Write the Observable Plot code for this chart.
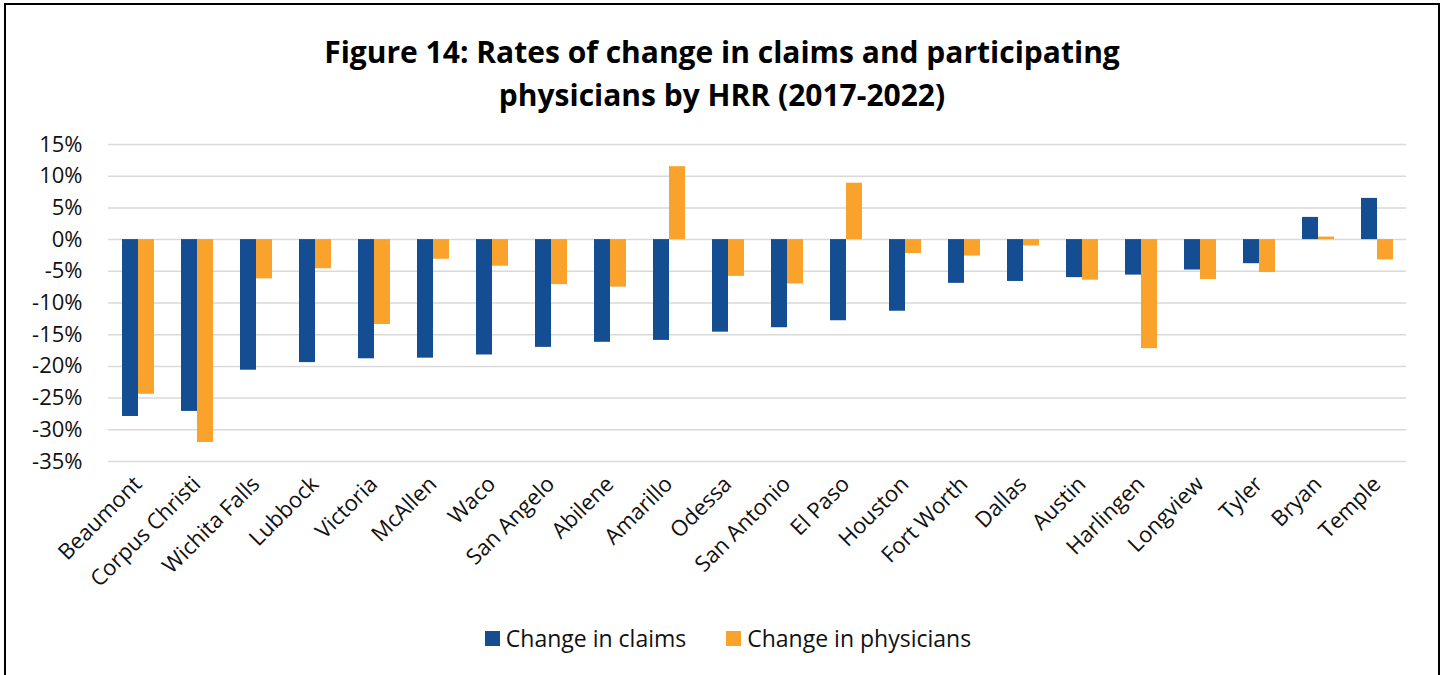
<!DOCTYPE html>
<html>
<head>
<meta charset="utf-8">
<script src="https://cdn.jsdelivr.net/npm/d3@7"></script>
<script src="https://cdn.jsdelivr.net/npm/@observablehq/plot@0.6"></script>
<style>
  html, body { margin: 0; padding: 0; background: #fff; }
  body { width: 1444px; height: 675px; overflow: hidden; position: relative; font-family: "Open Sans", "Noto Sans", sans-serif; color: #111; }
  #frame { position: absolute; left: 4px; top: 3px; width: 1436px; height: 720px; border: 2px solid #000; box-sizing: border-box; }
  #title { position: absolute; left: 0; top: 30px; width: 1444px; text-align: center; font-weight: 700; font-size: 30px; line-height: 43px; color: #000; }
  #chart { position: absolute; left: 0; top: 0; }
  #legend { position: absolute; top: 623px; left: 6px; width: 1444px; display: flex; justify-content: center; gap: 40px; font-size: 23px; line-height: 30px; color: #111; }
  .item { display: flex; align-items: center; gap: 6px; }
  .sw { width: 15px; height: 15px; display: inline-block; }
</style>
</head>
<body>
<div id="frame"></div>
<div id="chart"></div>
<div id="title">Figure 14: Rates of change in claims and participating<br>physicians by HRR (2017-2022)</div>
<div id="legend"></div>
<script>
const regions = ["Beaumont","Corpus Christi","Wichita Falls","Lubbock","Victoria","McAllen","Waco","San Angelo","Abilene","Amarillo","Odessa","San Antonio","El Paso","Houston","Fort Worth","Dallas","Austin","Harlingen","Longview","Tyler","Bryan","Temple"];
const claims = [-27.9,-27.1,-20.6,-19.4,-18.8,-18.7,-18.2,-17.0,-16.2,-15.9,-14.6,-13.9,-12.8,-11.3,-6.9,-6.6,-6.0,-5.6,-4.8,-3.8,3.5,6.5];
const physicians = [-24.4,-32.0,-6.2,-4.6,-13.4,-3.1,-4.2,-7.1,-7.5,11.5,-5.8,-7.0,8.9,-2.2,-2.6,-1.0,-6.4,-17.2,-6.3,-5.2,0.4,-3.2];
const seriesNames = ["Change in claims","Change in physicians"];
const seriesColors = ["#154d93","#f9a22c"];
const yTicks = [-35,-30,-25,-20,-15,-10,-5,0,5,10,15];

const data = [];
regions.forEach((r, i) => {
  data.push({region: r, series: seriesNames[0], value: claims[i]});
  data.push({region: r, series: seriesNames[1], value: physicians[i]});
});

const chart = Plot.plot({
  width: 1444,
  height: 600,
  marginTop: 144,
  marginBottom: 139,
  marginLeft: 103,
  marginRight: 34,
  style: {fontFamily: "'Open Sans', 'Noto Sans', sans-serif", color: "#111", background: "transparent"},
  fx: {domain: regions, padding: 0},
  x: {domain: seriesNames, paddingInner: 0, paddingOuter: 0.75, axis: null},
  y: {domain: [-35, 15]},
  color: {domain: seriesNames, range: seriesColors},
  marks: [
    Plot.gridY(yTicks, {stroke: "#d9d9d9", strokeOpacity: 1, strokeWidth: 1.5}),
    Plot.axisY(yTicks, {tickSize: 0, tickPadding: 26, fontSize: 22, tickFormat: d => d + "%", label: null}),
    Plot.axisFx({anchor: "bottom", tickSize: 0, tickPadding: 19, tickRotate: -45, fontSize: 22, label: null}),
    Plot.barY(data, {fx: "region", x: "series", y: "value", fill: "series"})
  ]
});
document.getElementById("chart").appendChild(chart);

const legend = document.getElementById("legend");
seriesNames.forEach((name, i) => {
  const item = document.createElement("div");
  item.className = "item";
  const sw = document.createElement("span");
  sw.className = "sw";
  sw.style.background = seriesColors[i];
  const label = document.createElement("span");
  label.textContent = name;
  item.appendChild(sw);
  item.appendChild(label);
  legend.appendChild(item);
});
</script>
</body>
</html>
